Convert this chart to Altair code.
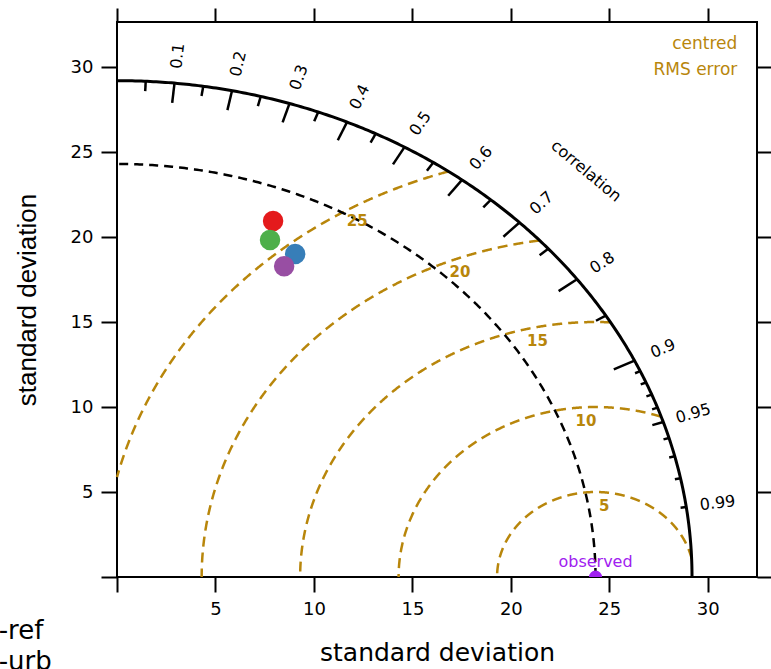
import numpy as np
import pandas as pd
import altair as alt

# ---- model statistics (standard deviation and correlation with observations) ----
groups = ["sim1-ref", "sim1-urb", "sim2-ref", "sim2-urb"]
group_colors = ["#E41A1C", "#4DAF4A", "#377EB8", "#984EA3"]
model_sd = [22.39, 21.29, 21.04, 20.16]
model_r = [0.354, 0.365, 0.430, 0.421]

# ---- reference (observed) statistics and diagram extent ----
obs_sd = 24.3
max_sd = 29.2

# centred RMS error contours and where their labels sit (degrees around the observed point)
rms_levels = [5, 10, 15, 20, 25]
rms_label_angle = [84, 93, 102, 111, 120]

# correlation ticks / labels
cor_labels = [0.1, 0.2, 0.3, 0.4, 0.5, 0.6, 0.7, 0.8, 0.9, 0.95, 0.99]
cor_major = [0.1, 0.2, 0.3, 0.4, 0.5, 0.6, 0.7, 0.8, 0.9]
cor_medium = [0.05, 0.15, 0.25, 0.35, 0.45, 0.55, 0.65, 0.75, 0.85, 0.95]
cor_fine = [0.91, 0.92, 0.93, 0.94, 0.96, 0.97, 0.98, 0.99]

axis_ticks = [0, 5, 10, 15, 20, 25, 30]

# ---- layout ----
W, H = 640, 555
X_MAX, Y_MAX = 32.5, 32.65
GOLD = "#B8860B"
OBS_COL = "#A020F0"
FONT = "DejaVu Sans"

xs = alt.Scale(domain=[0, X_MAX], nice=False, zero=False)
ys = alt.Scale(domain=[0, Y_MAX], nice=False, zero=False)

# ---- geometry built from the statistics above ----
# arcs of constant standard deviation
t = np.linspace(0, np.pi / 2, 300)
arcs = pd.concat([
    pd.DataFrame({"x": max_sd * np.cos(t), "y": max_sd * np.sin(t), "i": np.arange(len(t)), "kind": "max"}),
    pd.DataFrame({"x": obs_sd * np.cos(t), "y": obs_sd * np.sin(t), "i": np.arange(len(t)), "kind": "obs"}),
])

# centred RMS contours, kept inside the quarter circle
rows = []
tt = np.linspace(0, np.pi, 2000)
for lev in rms_levels:
    cx = obs_sd + lev * np.cos(tt)
    cy = lev * np.sin(tt)
    keep = (np.hypot(cx, cy) <= max_sd) & (cx >= 0)
    for k, (a, b) in enumerate(zip(cx[keep], cy[keep])):
        rows.append({"x": a, "y": b, "i": k, "lev": lev})
rms_df = pd.DataFrame(rows)

rms_lab = pd.DataFrame({
    "lev": rms_levels,
    "x": [obs_sd + (l - 0.8) * np.cos(np.radians(a)) for l, a in zip(rms_levels, rms_label_angle)],
    "y": [(l - 0.8) * np.sin(np.radians(a)) for l, a in zip(rms_levels, rms_label_angle)],
})
rms_lab["txt"] = rms_lab["lev"].astype(str)

# correlation tick segments pointing inwards from the outer arc
tick_rows = []
for vals, frac in [(cor_major, 0.96), (cor_medium, 0.98), (cor_fine, 0.99)]:
    for c in vals:
        th = np.arccos(c)
        tick_rows.append({"x": max_sd * np.cos(th), "y": max_sd * np.sin(th),
                          "x2": frac * max_sd * np.cos(th), "y2": frac * max_sd * np.sin(th)})
ticks_df = pd.DataFrame(tick_rows)

kx, ky = W / X_MAX, H / Y_MAX
lab_rows = []
for c in cor_labels:
    th = np.arccos(c)
    screen_ang = np.degrees(np.arctan2(np.sin(th) * ky, np.cos(th) * kx))
    lab_rows.append({"x": 1.055 * max_sd * np.cos(th), "y": 1.055 * max_sd * np.sin(th),
                     "txt": f"{c:g}", "ang": 360 - screen_ang})
cor_lab = pd.DataFrame(lab_rows)

notes = pd.DataFrame({"x": [31.5, 31.5], "y": [31.35, 29.82], "txt": ["centred", "RMS error"]})
obs_df = pd.DataFrame({"x": [obs_sd], "y": [0.0], "txt": ["observed"]})
models = pd.DataFrame({"group": groups, "sd": model_sd, "r": model_r})

# ---- layers ----
def X(**kw):
    return alt.X("x:Q", scale=xs, axis=None, **kw)

def Y(**kw):
    return alt.Y("y:Q", scale=ys, axis=None, **kw)

# frame axes: bottom / left with labels and titles
frame_main = alt.Chart(obs_df).mark_point(opacity=0).encode(
    x=alt.X("x:Q", scale=xs, axis=alt.Axis(
        orient="bottom", values=axis_ticks, labelExpr="datum.value == 0 ? '' : datum.label",
        tickSize=15, tickWidth=2, tickColor="black", domain=False, grid=False,
        labelFont=FONT, labelFontSize=18, labelColor="black", labelPadding=8,
        title="standard deviation", titleFont=FONT, titleFontSize=25, titleFontWeight="normal",
        titleColor="black", titlePadding=22)),
    y=alt.Y("y:Q", scale=ys, axis=alt.Axis(
        orient="left", values=axis_ticks, labelExpr="datum.value == 0 ? '' : datum.label",
        tickSize=16, tickWidth=2, tickColor="black", domain=False, grid=False,
        labelFont=FONT, labelFontSize=18, labelColor="black", labelPadding=8,
        title="standard deviation", titleFont="Liberation Sans", titleFontSize=26,
        titleFontWeight="normal", titleColor="black", titlePadding=30)),
)

# mirrored ticks on the top and right edges
frame_mirror = alt.Chart(obs_df).mark_point(opacity=0).encode(
    x=alt.X("x:Q", scale=xs, axis=alt.Axis(
        orient="top", values=axis_ticks, labels=False, tickSize=14, tickWidth=2,
        tickColor="black", domain=False, grid=False, title=None)),
    y=alt.Y("y:Q", scale=ys, axis=alt.Axis(
        orient="right", values=axis_ticks, labels=False, tickSize=14, tickWidth=2,
        tickColor="black", domain=False, grid=False, title=None)),
)

rms_lines = alt.Chart(rms_df).mark_line(color=GOLD, strokeWidth=2.5, strokeDash=[10, 6]).encode(
    x=X(), y=Y(), detail="lev:N", order="i:Q")

obs_arc = alt.Chart(arcs[arcs.kind == "obs"]).mark_line(
    color="black", strokeWidth=2.5, strokeDash=[9, 6]).encode(x=X(), y=Y(), order="i:Q")

max_arc = alt.Chart(arcs[arcs.kind == "max"]).mark_line(
    color="black", strokeWidth=3).encode(x=X(), y=Y(), order="i:Q")

cor_ticks = alt.Chart(ticks_df).mark_rule(color="black", strokeWidth=2.5).encode(
    x=X(), y=Y(), x2="x2:Q", y2="y2:Q")

cor_text = alt.Chart(cor_lab).mark_text(font=FONT, fontSize=16, color="black",
                                        align="center", baseline="middle").encode(
    x=X(), y=Y(), text="txt:N", angle=alt.Angle("ang:Q", scale=None))

cor_title = alt.Chart(pd.DataFrame({"x": [23.82], "y": [23.88], "txt": ["correlation"]})).mark_text(
    font=FONT, fontSize=16, color="black", angle=40, align="center", baseline="middle").encode(
    x=X(), y=Y(), text="txt:N")

rms_text = alt.Chart(rms_lab).mark_text(font=FONT, fontSize=15, fontWeight="bold", color=GOLD,
                                        align="center", baseline="middle").encode(
    x=X(), y=Y(), text="txt:N")

note_text = alt.Chart(notes).mark_text(font=FONT, fontSize=17, color=GOLD,
                                       align="right", baseline="middle").encode(
    x=X(), y=Y(), text="txt:N")

obs_point = alt.Chart(obs_df).mark_circle(size=170, color=OBS_COL, opacity=1, clip=True).encode(
    x=X(), y=Y())

obs_text = alt.Chart(obs_df).mark_text(font=FONT, fontSize=16, color=OBS_COL, dy=-15,
                                       align="center", baseline="middle").encode(
    x=X(), y=Y(), text="txt:N")

model_points = alt.Chart(models).transform_calculate(
    x="datum.sd * datum.r",
    y="datum.sd * sqrt(1 - datum.r * datum.r)",
).mark_circle(size=420, opacity=1).encode(
    x=X(), y=Y(),
    color=alt.Color("group:N", scale=alt.Scale(domain=groups, range=group_colors),
                    sort=groups,
                    legend=alt.Legend(orient="none", legendX=-211, legendY=596, title=None,
                                      labelFont=FONT, labelFontSize=26, labelColor="black",
                                      symbolSize=100, symbolType="circle", labelOffset=4,
                                      padding=0, rowPadding=5, direction="vertical")),
    order=alt.Order("sd:Q", sort="descending"),
)

chart = alt.layer(
    frame_main, frame_mirror, rms_lines, obs_arc, max_arc, cor_ticks, cor_text, cor_title,
    rms_text, note_text, obs_point, obs_text, model_points,
).resolve_axis(x="independent", y="independent").properties(
    width=W, height=H,
    autosize=alt.AutoSizeParams(type="none"),
    padding={"left": 117, "top": 22, "right": 14, "bottom": 92},
    background="white",
).configure_view(stroke="black", strokeWidth=2)

chart.save("out.html", embed_options={"renderer": "svg", "actions": False})
